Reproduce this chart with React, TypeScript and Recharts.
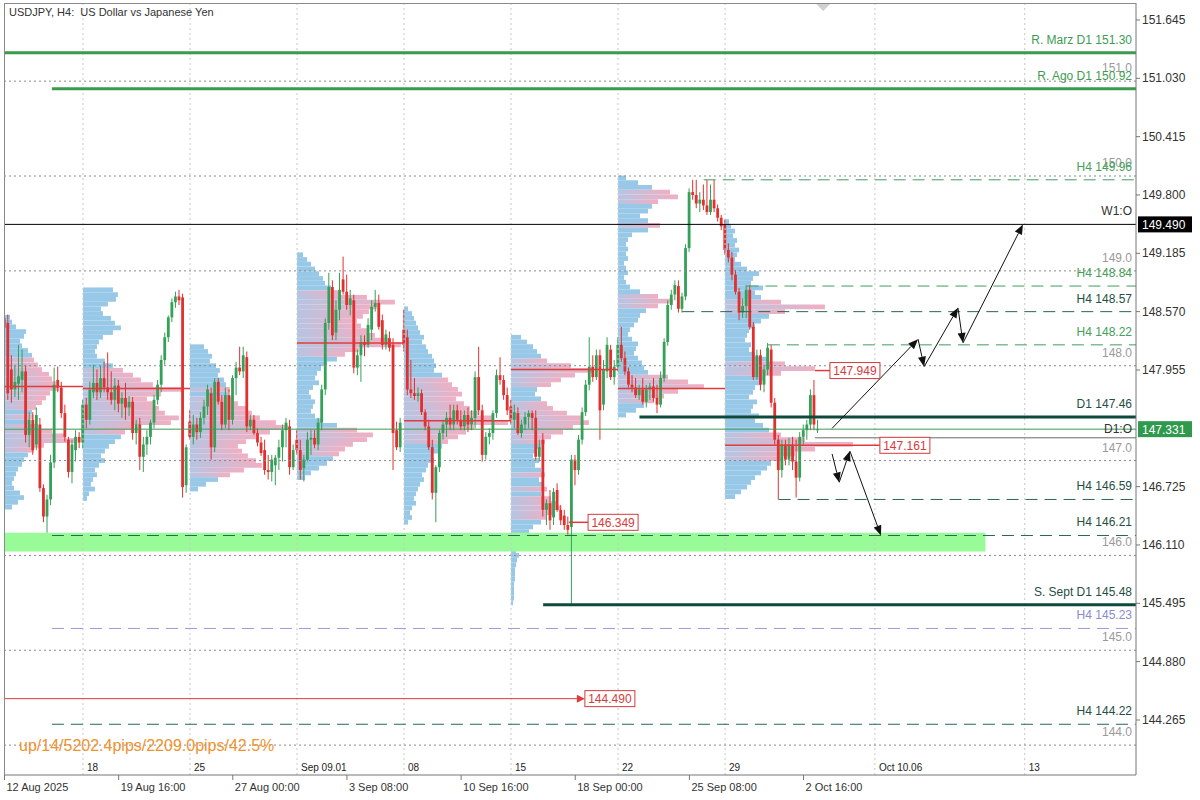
import React from "react";
import {
    ComposedChart,
    Bar,
    XAxis,
    YAxis,
    ReferenceLine,
    ReferenceArea,
    ReferenceDot,
} from "recharts";

// H4 candles, [open, high, low, close], one array per trading week
const wk0 = [
    [148.50, 148.57, 148.33, 148.40], [148.45, 148.54, 147.64, 147.71], [147.96, 148.11, 147.61, 147.75],
    [147.75, 148.01, 147.67, 147.83], [147.81, 148.22, 147.64, 147.89], [147.85, 148.17, 147.72, 147.94],
    [147.94, 148.01, 147.19, 147.27], [147.27, 147.51, 147.14, 147.43], [147.43, 147.51, 147.06, 147.11],
    [147.17, 147.56, 147.11, 147.48], [147.38, 147.45, 146.67, 146.71], [146.71, 146.75, 146.35, 146.41],
    [146.41, 146.64, 146.24, 146.59], [146.59, 147.06, 146.53, 146.98], [146.98, 147.98, 146.92, 147.80],
    [147.85, 147.99, 147.72, 147.77], [147.77, 147.83, 147.45, 147.50], [147.50, 147.59, 147.20, 147.25],
    [147.22, 147.25, 146.82, 146.88], [146.88, 147.22, 146.76, 147.17], [147.11, 147.32, 146.99, 147.25],
    [147.25, 147.30, 147.13, 147.19],
];
const wk1 = [
    [147.19, 147.64, 147.13, 147.59], [147.59, 147.66, 147.34, 147.43], [147.43, 147.83, 147.38, 147.75],
    [147.72, 148.01, 147.66, 147.82], [147.82, 147.96, 147.64, 147.72], [147.72, 148.00, 147.66, 147.87],
    [147.87, 148.04, 147.72, 147.77], [147.77, 148.14, 147.64, 147.72], [147.72, 147.94, 147.59, 147.64],
    [147.64, 147.87, 147.53, 147.79], [147.79, 147.85, 147.51, 147.60], [147.60, 147.72, 147.45, 147.66],
    [147.66, 147.82, 147.43, 147.56], [147.56, 147.68, 147.47, 147.62], [147.62, 147.67, 147.22, 147.29],
    [147.29, 147.43, 147.17, 147.38], [147.38, 147.45, 146.90, 147.04], [147.04, 147.25, 146.88, 147.17],
    [147.17, 147.32, 147.06, 147.25], [147.25, 147.43, 147.17, 147.40], [147.40, 147.69, 147.34, 147.64],
    [147.64, 147.85, 147.59, 147.80], [147.80, 148.11, 147.72, 148.06], [148.06, 148.35, 148.01, 148.30],
    [148.30, 148.53, 148.25, 148.51], [148.51, 148.71, 148.46, 148.67], [148.67, 148.78, 148.61, 148.73],
    [148.73, 148.80, 148.64, 148.69], [148.72, 148.76, 146.61, 146.72], [146.74, 147.17, 146.66, 147.14],
];
const wk2 = [
    [147.41, 147.53, 147.22, 147.25], [147.25, 147.48, 147.17, 147.38], [147.38, 147.45, 147.22, 147.30],
    [147.30, 147.51, 147.24, 147.45], [147.45, 147.64, 147.38, 147.57], [147.57, 147.80, 147.48, 147.75],
    [147.71, 147.77, 147.01, 147.14], [147.14, 147.87, 147.09, 147.83], [147.83, 147.87, 147.59, 147.62],
    [147.62, 147.69, 147.32, 147.38], [147.38, 147.77, 147.34, 147.69], [147.69, 147.75, 147.32, 147.43],
    [147.43, 147.90, 147.38, 147.87], [147.87, 148.04, 147.69, 147.98], [147.98, 148.20, 147.90, 147.94],
    [147.94, 148.20, 147.87, 148.11], [148.09, 148.15, 147.30, 147.36], [147.36, 147.48, 147.32, 147.43],
    [147.43, 147.48, 147.27, 147.29], [147.29, 147.34, 147.15, 147.19], [147.19, 147.25, 147.05, 147.08],
    [147.11, 147.22, 146.85, 146.90], [146.90, 147.06, 146.80, 146.88], [146.88, 147.06, 146.78, 147.01],
    [146.95, 147.06, 146.74, 147.03], [147.03, 147.22, 146.90, 147.14], [147.14, 147.38, 146.99, 147.32],
    [147.32, 147.45, 147.14, 147.40], [147.36, 147.43, 146.85, 146.93], [146.93, 147.17, 146.90, 147.11],
];
const wk3 = [
    [147.22, 147.32, 147.06, 147.11], [147.11, 147.22, 146.80, 146.90], [146.92, 147.06, 146.78, 147.01],
    [147.01, 147.30, 146.99, 147.22], [147.22, 147.32, 147.06, 147.24], [147.24, 147.32, 147.13, 147.17],
    [147.17, 147.45, 147.11, 147.40], [147.40, 147.80, 147.32, 147.75], [147.75, 148.50, 147.69, 148.45],
    [148.45, 148.98, 148.38, 148.83], [148.83, 148.90, 148.27, 148.32], [148.35, 148.69, 148.27, 148.59],
    [148.59, 148.98, 148.48, 148.80], [148.91, 149.15, 148.75, 148.78], [148.78, 148.96, 148.59, 148.64],
    [148.64, 148.80, 148.53, 148.71], [148.69, 148.75, 147.92, 147.98], [147.98, 148.17, 147.90, 148.11],
    [148.11, 148.32, 147.83, 148.25], [148.25, 148.32, 148.10, 148.22], [148.22, 148.50, 148.19, 148.43],
    [148.38, 148.69, 148.27, 148.62], [148.62, 148.80, 148.57, 148.66], [148.66, 148.75, 148.38, 148.41],
    [148.48, 148.54, 148.17, 148.22], [148.22, 148.38, 148.17, 148.33], [148.29, 148.36, 148.15, 148.19],
    [148.22, 148.29, 146.90, 147.29], [147.32, 147.41, 147.11, 147.14], [147.14, 147.45, 147.09, 147.40],
];
const wk4 = [
    [148.38, 148.59, 148.15, 148.22], [148.30, 148.38, 147.69, 147.75], [147.75, 148.06, 147.66, 147.71],
    [147.71, 147.87, 147.64, 147.68], [147.68, 147.77, 147.62, 147.71], [147.71, 147.75, 147.48, 147.51],
    [147.51, 147.54, 147.32, 147.36], [147.36, 147.43, 147.11, 147.14], [147.14, 147.22, 146.59, 146.66],
    [146.66, 146.95, 146.35, 146.93], [146.93, 147.32, 146.88, 147.29], [147.29, 147.43, 147.22, 147.38],
    [147.38, 147.51, 147.25, 147.45], [147.45, 147.59, 147.32, 147.38], [147.38, 147.59, 147.32, 147.53],
    [147.53, 147.59, 147.38, 147.43], [147.43, 147.53, 147.32, 147.36], [147.36, 147.53, 147.32, 147.48],
    [147.48, 147.56, 147.30, 147.38], [147.38, 147.53, 147.32, 147.45], [147.45, 147.94, 147.34, 147.88],
    [147.88, 148.20, 147.48, 147.53], [147.53, 147.59, 146.99, 147.06], [147.06, 147.30, 147.01, 147.25],
    [147.25, 147.34, 147.17, 147.29], [147.29, 147.53, 147.22, 147.50], [147.50, 147.96, 147.45, 147.90],
    [147.90, 148.09, 147.80, 147.85], [147.85, 147.90, 147.64, 147.69], [147.69, 147.77, 147.48, 147.53],
];
const wk5 = [
    [147.57, 147.64, 147.38, 147.43], [147.43, 147.59, 147.34, 147.51], [147.50, 147.56, 147.27, 147.29],
    [147.29, 147.43, 147.24, 147.38], [147.38, 147.51, 147.32, 147.46], [147.46, 147.53, 147.34, 147.50],
    [147.50, 147.53, 147.32, 147.45], [147.45, 147.53, 147.01, 147.04], [147.04, 147.22, 146.99, 147.14],
    [147.22, 147.29, 146.41, 146.48], [146.48, 146.59, 146.32, 146.55], [146.55, 146.69, 146.27, 146.37],
    [146.40, 146.71, 146.32, 146.67], [146.69, 146.76, 146.46, 146.48], [146.48, 146.53, 146.32, 146.37],
    [146.42, 146.48, 146.27, 146.32], [146.32, 146.41, 146.22, 146.27], [146.30, 147.06, 145.48, 147.01],
    [147.01, 147.06, 146.74, 146.90], [146.90, 147.27, 146.85, 147.22], [147.22, 147.56, 147.17, 147.51],
    [147.51, 147.85, 147.47, 147.80], [147.80, 148.30, 147.74, 147.99], [147.99, 148.11, 147.83, 147.88],
    [147.88, 148.17, 147.85, 148.11], [148.11, 148.17, 147.22, 147.53], [147.59, 148.06, 147.53, 147.96],
    [147.94, 148.30, 147.87, 148.22], [148.17, 148.22, 147.85, 147.88], [147.88, 148.06, 147.80, 147.99],
];
const wk6 = [
    [147.99, 148.30, 147.94, 148.22], [148.22, 148.41, 148.04, 148.08], [148.08, 148.15, 147.90, 147.94],
    [147.94, 147.98, 147.77, 147.80], [147.80, 147.90, 147.72, 147.77], [147.77, 147.87, 147.66, 147.69],
    [147.69, 147.80, 147.64, 147.75], [147.75, 147.87, 147.59, 147.62], [147.62, 147.80, 147.56, 147.75],
    [147.75, 147.82, 147.64, 147.78], [147.78, 147.87, 147.62, 147.66], [147.66, 147.80, 147.50, 147.59],
    [147.59, 147.94, 147.56, 147.87], [147.87, 148.29, 147.83, 148.25], [148.25, 148.69, 148.21, 148.64],
    [148.64, 148.80, 148.59, 148.75], [148.75, 148.90, 148.69, 148.85], [148.84, 148.90, 148.56, 148.60],
    [148.60, 148.77, 148.56, 148.73], [148.73, 149.28, 148.69, 149.24], [149.24, 149.87, 149.20, 149.83],
    [149.83, 149.96, 149.75, 149.80], [149.80, 149.96, 149.66, 149.71], [149.71, 149.83, 149.62, 149.75],
    [149.75, 149.91, 149.64, 149.69], [149.69, 149.96, 149.59, 149.62], [149.62, 149.91, 149.59, 149.75],
    [149.75, 149.96, 149.62, 149.66], [149.66, 149.70, 149.52, 149.56], [149.56, 149.59, 149.43, 149.47],
];
const wk7 = [
    [149.49, 149.54, 149.17, 149.22], [149.22, 149.29, 149.09, 149.14], [149.14, 149.20, 148.90, 148.96],
    [148.96, 149.01, 148.75, 148.78], [148.78, 148.82, 148.48, 148.56], [148.56, 148.71, 148.50, 148.63],
    [148.63, 148.85, 148.50, 148.80], [148.80, 148.85, 148.38, 148.41], [148.41, 148.46, 147.85, 147.88],
    [147.88, 148.17, 147.85, 148.11], [148.11, 148.17, 147.74, 147.80], [147.80, 148.01, 147.72, 147.96],
    [147.96, 148.24, 147.90, 148.19], [148.17, 148.22, 147.56, 147.61], [147.61, 147.66, 147.17, 147.22],
    [147.22, 147.27, 146.59, 146.90], [146.90, 147.22, 146.82, 147.17], [147.17, 147.22, 146.95, 147.01],
    [147.01, 147.24, 146.95, 147.17], [147.17, 147.25, 146.90, 146.99], [146.99, 147.22, 146.61, 146.82],
    [146.82, 147.30, 146.78, 147.25], [147.25, 147.38, 147.17, 147.32], [147.32, 147.43, 147.22, 147.38],
    [147.38, 147.75, 147.32, 147.69], [147.69, 147.85, 147.32, 147.38], [147.32, 147.43, 147.29, 147.33],
];

// weekly volume profiles: first bar of the week, price of the top row, volume per 0.05 row
const profileStart = [-0.14, 22, 52, 82, 112, 142, 172, 202];
const profileTop = [148.51, 148.80, 148.20, 149.17, 148.60, 148.30, 149.98, 149.52];
const profileVol = [
    [6, 8, 12, 22, 20, 16, 18, 24, 28, 30, 34, 38, 45, 48, 52, 55, 46, 42, 38, 32, 28, 30, 26, 34, 48, 62, 72, 40, 30, 24, 20, 18, 14, 12, 10, 8, 10, 16, 20, 14, 8],
    [30, 35, 33, 25, 18, 20, 28, 32, 38, 30, 20, 16, 14, 12, 14, 22, 30, 40, 50, 58, 70, 100, 78, 64, 70, 76, 82, 96, 88, 50, 42, 38, 32, 26, 22, 18, 22, 16, 12, 14, 10, 8, 12, 6, 4],
    [14, 18, 22, 20, 26, 30, 28, 34, 36, 40, 38, 44, 48, 56, 62, 70, 86, 98, 80, 66, 56, 48, 52, 58, 66, 72, 54, 40, 28, 16, 8],
    [6, 10, 14, 18, 22, 26, 28, 34, 42, 70, 98, 80, 72, 66, 60, 64, 70, 78, 92, 104, 62, 48, 40, 30, 24, 20, 18, 22, 16, 12, 14, 18, 16, 14, 18, 24, 40, 60, 76, 70, 56, 48, 42, 36, 30, 22, 14, 8],
    [4, 8, 10, 12, 14, 16, 20, 18, 22, 24, 28, 30, 32, 30, 38, 44, 48, 54, 58, 52, 60, 66, 74, 88, 104, 70, 62, 54, 44, 38, 34, 28, 30, 24, 22, 18, 20, 16, 14, 12, 10, 12, 8, 6, 8, 4],
    [10, 16, 22, 26, 30, 36, 60, 82, 64, 50, 40, 26, 24, 30, 36, 42, 56, 70, 78, 62, 52, 40, 34, 30, 26, 22, 28, 24, 30, 34, 28, 32, 36, 30, 40, 46, 50, 44, 36, 30, 22, 18, 10, 6, 4, 5, 8, 6, 5, 4, 4, 4, 3, 3, 3, 3, 2],
    [8, 20, 34, 52, 60, 40, 34, 30, 22, 30, 42, 30, 14, 10, 8, 10, 8, 10, 6, 8, 10, 6, 8, 12, 22, 40, 55, 40, 28, 22, 20, 16, 12, 10, 14, 20, 18, 16, 20, 24, 26, 30, 50, 70, 86, 60, 46, 36, 26, 18, 8],
    [4, 6, 10, 8, 12, 10, 14, 12, 10, 16, 22, 34, 28, 26, 38, 30, 36, 56, 100, 60, 44, 36, 30, 24, 22, 20, 26, 24, 30, 42, 60, 90, 56, 40, 36, 30, 28, 24, 32, 28, 26, 34, 30, 38, 44, 56, 80, 128, 90, 70, 56, 46, 42, 36, 30, 26, 22, 16, 10],
];
// point of control per week: price, first bar, last bar
const pocPrice = [147.78, 147.76, 148.24, 147.42, 147.96, 147.76];
const pocFrom = [-0.14, 22, 82, 112, 142, 172];
const pocTo = [22, 52, 112, 142, 172, 202];

// horizontal levels
const levelText = ["R. Marz D1 151.30", "R. Ago D1 150.92", "H4 149.96", "W1:O", "H4 148.84", "H4 148.57", "H4 148.22", "D1 147.46", "D1:O", "H4 146.59", "H4 146.21", "S. Sept D1 145.48", "H4 145.23", "H4 144.22"];
const levelPrice = [151.30, 150.92, 149.96, 149.49, 148.84, 148.57, 148.22, 147.46, 147.331, 146.59, 146.21, 145.48, 145.23, 144.22];
const levelFrom = [-0.14, 13.3, 196, -0.14, 208, 190, 214, 178, -0.14, 217, 13.3, 151, 13.3, 13.3];
const levelKind = ["res", "res", "h4", "open", "h4", "h4d", "h4", "d1", "dopen", "h4d", "h4d", "d1", "lav", "h4d"];
const roundLevels = [151, 150, 149, 148, 147, 146, 145, 144];

// boxed price marks (price, line start bar, box bar)
const markPrice = [147.949, 147.161, 146.349, 144.49];
const markFrom = [227.2, 202, 158.2, -0.14];
const markBox = [231.4, 245.4, 163.6, 162.7];

// projected path arrows [bar, price]
const upPath = [[232.0, 147.34], [256.1, 148.28], [257.8, 147.99], [267.3, 148.61], [268.7, 148.24], [285.5, 149.49]];
const downPath = [[232.0, 147.07], [234.0, 146.77], [237.0, 147.1], [245.7, 146.21]];

const zoneLow = 146.04;
const zoneHigh = 146.24;
const zoneEnd = 275;

const weekStart = [22, 52, 82, 112, 142, 172, 202, 244, 286];
const weekText = ["18", "25", "Sep 09.01", "08", "15", "22", "29", "Oct 10.06", "13"];
const timeTicks = [0, 32, 64, 96, 128, 160, 192, 224];
const timeText = ["12 Aug 2025", "19 Aug 16:00", "27 Aug 00:00", "3 Sep 08:00", "10 Sep 16:00", "18 Sep 00:00", "25 Sep 08:00", "2 Oct 16:00"];
const priceTicks = [151.645, 151.03, 150.415, 149.8, 149.185, 148.57, 147.955, 146.725, 146.11, 145.495, 144.88, 144.265];
const shiftMark = 229.5;

const XMIN = -0.14;
const XMAX = 317.2;
const YMIN = 143.685;
const YMAX = 151.824;
const ROW = 0.05;
const VOL_TO_BARS = 0.28;

const UP = "#34a058";
const DOWN = "#e2302f";
const FONT = '"Liberation Sans", Arial, sans-serif';

const candles = [...wk0, ...wk1, ...wk2, ...wk3, ...wk4, ...wk5, ...wk6, ...wk7].map(
    ([o, h, l, c], i) => ({ i, o, h, l, c, range: [l, h] })
);

const kindStyle: Record<string, { stroke: string; width: number; dash?: string; text: string }> = {
    res: { stroke: "#3a9a4e", width: 3, text: "#3e9b52" },
    h4: { stroke: "#3f9c60", width: 1, dash: "12 7", text: "#44a05a" },
    h4d: { stroke: "#2a6655", width: 1, dash: "12 7", text: "#1f4f45" },
    d1: { stroke: "#0e4a3c", width: 3, text: "#1f4f45" },
    open: { stroke: "#000000", width: 1, text: "#333333" },
    dopen: { stroke: "#3c9a50", width: 1, text: "#333333" },
    lav: { stroke: "#9a9ad8", width: 1, dash: "12 7", text: "#8a8ad0" },
};

function Candle(props: any) {
    const { x, y, width, height, payload } = props;
    if (!payload || height == null) return null;
    const { o, h, l, c } = payload;
    const col = c >= o ? UP : DOWN;
    const top = Math.min(y, y + height);
    const hh = Math.abs(height);
    const cx = x + width / 2;
    const k = h > l ? hh / (h - l) : 0;
    const bTop = top + (h - Math.max(o, c)) * k;
    const bBot = top + (h - Math.min(o, c)) * k;
    return (
        <g>
            <line x1={cx} x2={cx} y1={top} y2={top + hh} stroke={col} strokeWidth={1} />
            <rect x={cx - 1.4} y={bTop} width={2.8} height={Math.max(1, bBot - bTop)} fill={col} />
        </g>
    );
}

function Arrow(props: any) {
    const { x1, y1, x2, y2 } = props;
    const a = Math.atan2(y2 - y1, x2 - x1);
    const L = 10;
    const W = 4;
    const bx = x2 - L * Math.cos(a);
    const by = y2 - L * Math.sin(a);
    const px = -Math.sin(a) * W;
    const py = Math.cos(a) * W;
    return (
        <g>
            <line x1={x1} y1={y1} x2={bx} y2={by} stroke="#111" strokeWidth={1} />
            <polygon points={`${x2},${y2} ${bx + px},${by + py} ${bx - px},${by - py}`} fill="#111" />
        </g>
    );
}

function RedArrowLine(props: any) {
    const { x1, y1, x2, y2 } = props;
    return (
        <g>
            <line x1={x1} y1={y1} x2={x2 - 6} y2={y2} stroke="#e03a3a" strokeWidth={1} />
            <polygon points={`${x2},${y2} ${x2 - 8},${y2 - 4} ${x2 - 8},${y2 + 4}`} fill="#e03a3a" />
        </g>
    );
}

const sideText = (text: string, color: string, dy: number) => (p: any) => (
    <text x={p.cx - 4} y={p.cy + dy} textAnchor="end" fontSize={12} fill={color} fontFamily={FONT}>
        {text}
    </text>
);

const redBox = (text: string) => (p: any) => (
    <g>
        <rect x={p.cx} y={p.cy - 8} width={50} height={16} fill="#fff" stroke="#d63a3a" strokeWidth={1} />
        <text x={p.cx + 25} y={p.cy + 4.5} textAnchor="middle" fontSize={12} fill="#d63a3a" fontFamily={FONT}>
            {text}
        </text>
    </g>
);

const axisTag = (text: string, bg: string) => (p: any) => (
    <g>
        <rect x={p.cx + 2} y={p.cy - 8} width={54} height={16} fill={bg} />
        <text x={p.cx + 6} y={p.cy + 4.5} fontSize={12} fill="#fff" fontFamily={FONT}>
            {text}
        </text>
    </g>
);

const weekLabel = (text: string) => (p: any) => (
    <text x={p.cx + 4} y={p.cy - 4} fontSize={10} fill="#222" fontFamily='"Liberation Sans Narrow", "Liberation Sans", sans-serif'>
        {text}
    </text>
);

const shiftShape = (p: any) => (
    <polygon points={`${p.cx - 7},${p.cy + 1} ${p.cx + 7},${p.cy + 1} ${p.cx},${p.cy + 8}`} fill="#d0d0d0" />
);

function XTick(props: any) {
    const { x, y, payload } = props;
    const k = timeTicks.indexOf(payload.value);
    return (
        <text x={x + 2} y={y + 9} fontSize={11} fill="#333" fontFamily={FONT}>
            {timeText[k]}
        </text>
    );
}

function YTick(props: any) {
    const { x, y, payload } = props;
    return (
        <text x={x} y={y + 4} fontSize={12} fill="#333" fontFamily={FONT}>
            {payload.value.toFixed(3)}
        </text>
    );
}

export default function App() {
    const profileRows: React.ReactElement[] = [];
    profileVol.forEach((vols, p) => {
        const max = Math.max(...vols);
        vols.forEach((v, k) => {
            const mid = profileTop[p] - k * ROW;
            profileRows.push(
                <ReferenceArea
                    key={`pr-${p}-${k}`}
                    x1={profileStart[p]}
                    x2={profileStart[p] + v * VOL_TO_BARS}
                    y1={mid - ROW / 2}
                    y2={mid + ROW / 2}
                    fill={v >= 0.4 * max ? "url(#vaFill)" : "#98c8e8"}
                    fillOpacity={1}
                    stroke="none"
                    ifOverflow="hidden"
                />
            );
        });
    });

    const arrowSegs = (path: number[][], tag: string) =>
        path.slice(1).map((pt, k) => (
            <ReferenceLine
                key={`${tag}-${k}`}
                segment={[
                    { x: path[k][0], y: path[k][1] },
                    { x: pt[0], y: pt[1] },
                ]}
                shape={Arrow}
                ifOverflow="visible"
            />
        ));

    return (
        <div style={{ position: "absolute", left: 0, top: 0, width: 1200, height: 800, background: "#fff", fontFamily: FONT }}>
            <ComposedChart
                width={1200}
                height={800}
                data={candles}
                margin={{ top: 3, right: 0, bottom: 0, left: 4 }}
            >
                <defs>
                    <linearGradient id="vaFill" x1="0" y1="0" x2="1" y2="0">
                        <stop offset="0%" stopColor="#b6c4e2" />
                        <stop offset="100%" stopColor="#f1afc2" />
                    </linearGradient>
                </defs>
                <XAxis
                    dataKey="i"
                    type="number"
                    domain={[XMIN, XMAX]}
                    ticks={timeTicks}
                    interval={0}
                    allowDataOverflow
                    height={25}
                    tickSize={5}
                    tick={XTick}
                    axisLine={{ stroke: "#777" }}
                    tickLine={{ stroke: "#777" }}
                />
                <YAxis
                    orientation="right"
                    type="number"
                    domain={[YMIN, YMAX]}
                    ticks={priceTicks}
                    interval={0}
                    allowDataOverflow
                    width={64}
                    tickSize={4}
                    tickMargin={2}
                    tick={YTick}
                    axisLine={{ stroke: "#777" }}
                    tickLine={{ stroke: "#777" }}
                />

                {weekStart.map((w, k) => (
                    <ReferenceLine key={`ws-${k}`} x={w} stroke="#c8c8c8" strokeDasharray="2 3" ifOverflow="visible" />
                ))}

                {profileRows}

                <ReferenceArea x1={XMIN} x2={zoneEnd} y1={zoneLow} y2={zoneHigh} fill="#98fb98" fillOpacity={1} stroke="none" ifOverflow="hidden" />

                {roundLevels.map((r) => (
                    <ReferenceLine key={`rl-${r}`} y={r} stroke="#8a8a8a" strokeDasharray="2 3" ifOverflow="visible" />
                ))}

                {pocPrice.map((p, k) => (
                    <ReferenceLine
                        key={`poc-${k}`}
                        segment={[
                            { x: pocFrom[k], y: p },
                            { x: pocTo[k], y: p },
                        ]}
                        stroke="#e03a3a"
                        strokeWidth={1.5}
                        ifOverflow="visible"
                    />
                ))}

                {levelPrice.map((p, k) => {
                    const st = kindStyle[levelKind[k]];
                    return (
                        <ReferenceLine
                            key={`lv-${k}`}
                            segment={[
                                { x: levelFrom[k], y: p },
                                { x: XMAX, y: p },
                            ]}
                            stroke={st.stroke}
                            strokeWidth={st.width}
                            strokeDasharray={st.dash}
                            ifOverflow="visible"
                        />
                    );
                })}

                <ReferenceLine
                    segment={[
                        { x: 227.2, y: 147.24 },
                        { x: XMAX, y: 147.24 },
                    ]}
                    stroke="#6a6a6a"
                    strokeWidth={1}
                    ifOverflow="visible"
                />

                {markPrice.map((p, k) =>
                    k === 3 ? (
                        <ReferenceLine
                            key={`mk-${k}`}
                            segment={[
                                { x: markFrom[k], y: p },
                                { x: markBox[k], y: p },
                            ]}
                            shape={RedArrowLine}
                            ifOverflow="visible"
                        />
                    ) : (
                        <ReferenceLine
                            key={`mk-${k}`}
                            segment={[
                                { x: markFrom[k], y: p },
                                { x: markBox[k], y: p },
                            ]}
                            stroke="#e03a3a"
                            strokeWidth={1.5}
                            ifOverflow="visible"
                        />
                    )
                )}

                <Bar dataKey="range" barSize={3} shape={Candle} isAnimationActive={false} />

                {arrowSegs(upPath, "up")}
                {arrowSegs(downPath, "dn")}

                {markPrice.map((p, k) => (
                    <ReferenceDot key={`mb-${k}`} x={markBox[k]} y={p} r={1} shape={redBox(p.toFixed(3))} ifOverflow="visible" />
                ))}

                {roundLevels.map((r) => (
                    <ReferenceDot key={`rt-${r}`} x={XMAX} y={r} r={1} shape={sideText(r.toFixed(1), "#9a9a9a", -9)} ifOverflow="visible" />
                ))}

                {levelPrice.map((p, k) => (
                    <ReferenceDot
                        key={`lt-${k}`}
                        x={XMAX}
                        y={p}
                        r={1}
                        shape={sideText(levelText[k], kindStyle[levelKind[k]].text, levelKind[k] === "dopen" ? 4 : -9)}
                        ifOverflow="visible"
                    />
                ))}

                {weekStart.map((w, k) => (
                    <ReferenceDot key={`wl-${k}`} x={w} y={YMIN} r={1} shape={weekLabel(weekText[k])} ifOverflow="visible" />
                ))}

                <ReferenceDot x={shiftMark} y={YMAX} r={1} shape={shiftShape} ifOverflow="visible" />
                <ReferenceDot x={XMAX} y={149.49} r={1} shape={axisTag("149.490", "#000")} ifOverflow="visible" />
                <ReferenceDot x={XMAX} y={147.331} r={1} shape={axisTag("147.331", "#2f9a4e")} ifOverflow="visible" />
            </ComposedChart>

            <div style={{ position: "absolute", left: 4, top: 3, width: 1132, height: 772, border: "1px solid #8a8a8a", borderRight: "none", borderBottom: "none", boxSizing: "border-box", pointerEvents: "none" }} />
            <div style={{ position: "absolute", left: 9, top: 6, fontSize: 11, color: "#333", whiteSpace: "pre" }}>
                {"USDJPY, H4:  US Dollar vs Japanese Yen"}
            </div>
            <div style={{ position: "absolute", left: 19, top: 737, fontSize: 16, color: "#f0922e", whiteSpace: "pre" }}>
                {"up/14/5202.4pips/2209.0pips/42.5%"}
            </div>
        </div>
    );
}
